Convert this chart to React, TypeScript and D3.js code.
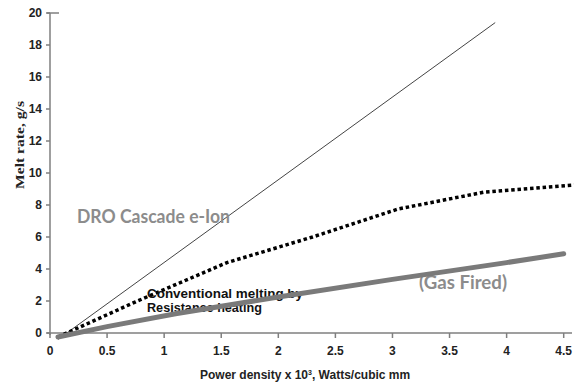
import React from 'react';
import * as d3 from 'd3';

// values
const xTicks = [0, 0.5, 1, 1.5, 2, 2.5, 3, 3.5, 4, 4.5];
const yTicks = [0, 2, 4, 6, 8, 10, 12, 14, 16, 18, 20];

const droX = [0.07, 3.9];
const droY = [-0.4, 19.4];

const resistX = [0.07, 0.75, 1.55, 2.3, 3.05, 3.8, 4.6];
const resistY = [-0.25, 1.95, 4.4, 6.0, 7.75, 8.8, 9.25];

const gasX = [0.07, 0.5, 1.1, 2.0, 3.0, 4.0, 4.5];
const gasY = [-0.25, 0.4, 1.2, 2.25, 3.35, 4.4, 4.95];

type Pt = [number, number];
const zip = (xs: number[], ys: number[]): Pt[] => xs.map((x, i) => [x, ys[i]]);

export default function App() {
    const width = 574;
    const height = 386;

    const x = d3.scaleLinear().domain([0, 4.5]).range([50, 563.7]);
    const y = d3.scaleLinear().domain([0, 20]).range([333, 13]);

    const line = d3.line<Pt>()
        .x(d => x(d[0]))
        .y(d => y(d[1]));

    const tickFont = "'Liberation Sans', Arial, sans-serif";

    return (
        <svg
            width={width}
            height={height}
            style={{ position: 'absolute', left: 0, top: 0, background: '#fff' }}
        >
            {/* axes */}
            <g stroke="#7f7f7f" strokeWidth={1.5}>
                <line x1={x(0)} x2={x(0)} y1={y(0) + 2} y2={y(20)} />
                <line x1={x(0) - 3} x2={x(0) + 9} y1={y(20)} y2={y(20)} />
                <line x1={x(0) - 3} x2={572} y1={y(0)} y2={y(0)} />
                {yTicks.map(t => (
                    <line key={t} x1={x(0) - 4} x2={x(0)} y1={y(t)} y2={y(t)} />
                ))}
                {xTicks.map(t => (
                    <line key={t} x1={x(t)} x2={x(t)} y1={y(0)} y2={y(0) + 5} />
                ))}
            </g>

            {/* tick labels */}
            <g fontFamily={tickFont} fontWeight="bold" fontSize={12} fill="#222">
                {yTicks.map(t => (
                    <text key={t} x={42} y={y(t)} dy="0.35em" textAnchor="end">{t}</text>
                ))}
                {xTicks.map(t => (
                    <text key={t} x={x(t)} y={355} textAnchor="middle">{t}</text>
                ))}
            </g>

            {/* axis titles */}
            <text
                transform="translate(24,145) rotate(-90)"
                textAnchor="middle"
                fontFamily="'Liberation Serif', 'Times New Roman', serif"
                fontWeight="bold"
                fontSize={13}
                textLength={88}
                lengthAdjust="spacingAndGlyphs"
                fill="#222"
            >
                Melt rate, g/s
            </text>
            <text
                x={200}
                y={379}
                fontFamily={tickFont}
                fontWeight="bold"
                fontSize={12}
                fill="#222"
            >
                Power density x 10<tspan dy={-4} fontSize={7}>3</tspan>
                <tspan dy={4}>, Watts/cubic mm</tspan>
            </text>

            {/* series */}
            <path d={line(zip(droX, droY)) ?? ''} fill="none" stroke="#444" strokeWidth={1} />
            <path
                d={line(zip(resistX, resistY)) ?? ''}
                fill="none"
                stroke="#000"
                strokeWidth={3.5}
                strokeDasharray="3.5,2.8"
            />

            {/* annotations */}
            <text x={77} y={223} fontFamily="Lato, sans-serif" fontWeight="bold" fontSize={18}
                textLength={153} lengthAdjust="spacingAndGlyphs" fill="#8c8c8c">
                DRO Cascade e-Ion
            </text>
            <text x={419} y={289} fontFamily="Lato, sans-serif" fontWeight="bold" fontSize={18.5}
                textLength={88} lengthAdjust="spacingAndGlyphs" fill="#8c8c8c">
                (Gas Fired)
            </text>
            <g fontFamily={tickFont} fontWeight="bold" fontSize={12} fill="#111">
                <text x={147} y={298} textLength={156} lengthAdjust="spacingAndGlyphs">
                    Conventional melting by
                </text>
                <text x={147} y={312} textLength={115} lengthAdjust="spacingAndGlyphs">
                    Resistance heating
                </text>
            </g>

            <path
                d={line(zip(gasX, gasY)) ?? ''}
                fill="none"
                stroke="#7a7a7a"
                strokeWidth={5}
                strokeLinecap="round"
            />
        </svg>
    );
}
